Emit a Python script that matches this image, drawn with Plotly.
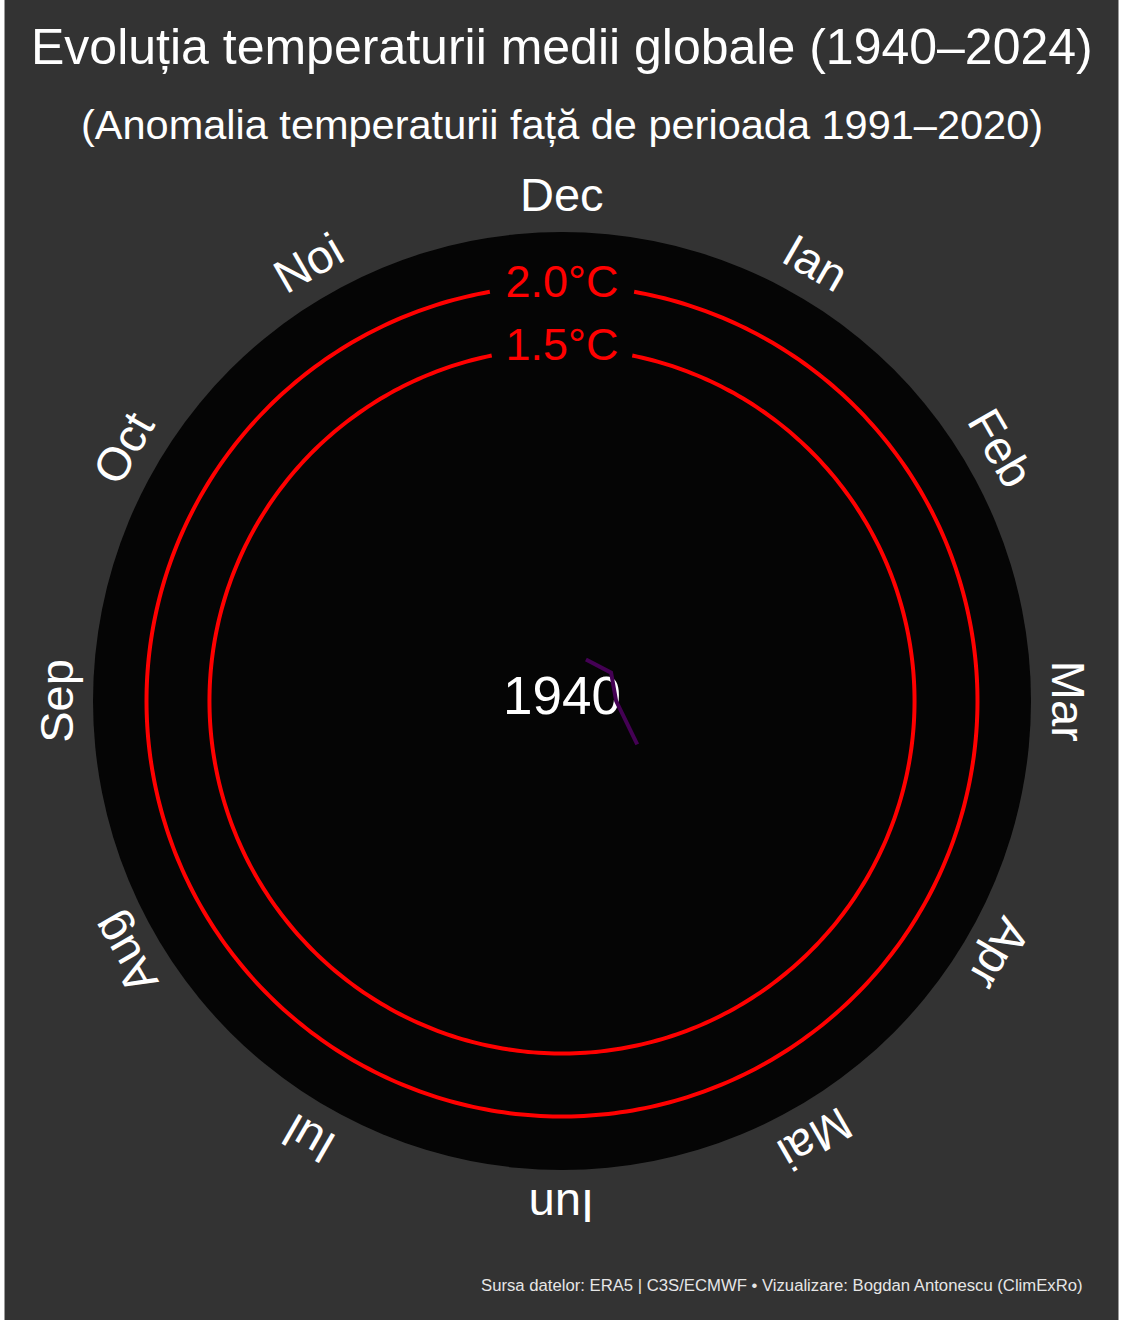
import numpy as np
import plotly.graph_objects as go

# ---- data ----
months = ["Ian", "Feb", "Mar", "Apr", "Mai", "Iun", "Iul", "Aug", "Sep", "Oct", "Noi", "Dec"]
year_label = "1940"
year_months = ["Ian", "Feb", "Mar", "Apr"]
year_anomaly = [-0.92, -0.85, -0.87, -0.61]
thresholds = [1.5, 2.0]
threshold_labels = ["1.5°C", "2.0°C"]
threshold_gap_deg = [11.5, 10.0]

title = "Evoluția temperaturii medii globale (1940–2024)"
subtitle = "(Anomalia temperaturii față de perioada 1991–2020)"
footer = "Sursa datelor: ERA5 | C3S/ECMWF • Vizualizare: Bogdan Antonescu (ClimExRo)"

# ---- layout constants ----
W, H = 1125, 1320
CX, CY = 562, 701          # polar centre (px)
R_PX = 469                 # disc radius (px)
R_MIN, R_MAX = -1.30, 2.425
LABEL_R = 2.72             # month-label radius in radial units
FONT = "Liberation Sans, Arial, Helvetica, sans-serif"
BG = "#333333"
DISC = "#050505"


def month_theta(m):
    return (months.index(m) + 1) * 30.0


def r_to_px(r):
    return (r - R_MIN) / (R_MAX - R_MIN) * R_PX


fig = go.Figure()

# threshold circles with a gap at the top for their labels
for thr, gap in zip(thresholds, threshold_gap_deg):
    th = np.linspace(gap, 360 - gap, 400)
    fig.add_trace(go.Scatterpolar(
        r=[thr] * len(th), theta=th, mode="lines",
        line=dict(color="#ff0000", width=4), hoverinfo="skip", showlegend=False))
fig.add_trace(go.Scatterpolar(
    r=thresholds, theta=[0, 0], mode="text", text=threshold_labels,
    textposition="middle center",
    textfont=dict(color="#ff0000", size=45, family=FONT),
    hoverinfo="skip", showlegend=False))

# year label in the centre
fig.add_trace(go.Scatterpolar(
    r=[R_MIN], theta=[0], mode="text", text=[year_label],
    textposition="middle center",
    textfont=dict(color="white", size=53, family=FONT),
    hoverinfo="skip", showlegend=False))

# spiral line for the year
fig.add_trace(go.Scatterpolar(
    r=year_anomaly, theta=[month_theta(m) for m in year_months], mode="lines",
    line=dict(color="#440154", width=4), hoverinfo="skip", showlegend=False))

# month labels, rotated tangentially
annotations = []
R_lab = r_to_px(LABEL_R)
for m in months:
    t = month_theta(m) % 360
    x = CX + R_lab * np.sin(np.radians(t))
    y = CY - R_lab * np.cos(np.radians(t))
    ang = t if t <= 180 else t - 360
    annotations.append(dict(
        x=x / W, y=1 - y / H, xref="paper", yref="paper", text=m,
        showarrow=False, textangle=ang, xanchor="center", yanchor="middle",
        font=dict(color="white", size=47, family=FONT)))

annotations.append(dict(x=562 / W, y=1 - 47 / H, xref="paper", yref="paper", text=title,
                        showarrow=False, xanchor="center", yanchor="middle",
                        font=dict(color="white", size=50, family=FONT)))
annotations.append(dict(x=562 / W, y=1 - 124 / H, xref="paper", yref="paper", text=subtitle,
                        showarrow=False, xanchor="center", yanchor="middle",
                        font=dict(color="white", size=41.5, family=FONT)))
annotations.append(dict(x=1085 / W, y=1 - 1285 / H, xref="paper", yref="paper", text=footer,
                        showarrow=False, xanchor="right", yanchor="middle",
                        font=dict(color="#e6e6e6", size=16.7, family=FONT)))

shapes = [
    dict(type="rect", xref="paper", yref="paper", x0=-0.01, x1=4 / W, y0=-0.01, y1=1.01,
         fillcolor="white", line=dict(width=0), layer="above"),
    dict(type="rect", xref="paper", yref="paper", x0=1119 / W, x1=1.01, y0=-0.01, y1=1.01,
         fillcolor="white", line=dict(width=0), layer="above"),
    dict(type="line", xref="paper", yref="paper", x0=4.5 / W, x1=4.5 / W, y0=0, y1=1,
         line=dict(color="#9a9a9a", width=1), layer="above"),
    dict(type="line", xref="paper", yref="paper", x0=1118.5 / W, x1=1118.5 / W, y0=0, y1=1,
         line=dict(color="#9a9a9a", width=1), layer="above"),
]

fig.update_layout(
    width=W, height=H,
    margin=dict(l=0, r=0, t=0, b=0),
    paper_bgcolor=BG, plot_bgcolor=BG,
    showlegend=False,
    polar=dict(
        domain=dict(x=[(CX - R_PX) / W, (CX + R_PX) / W],
                    y=[1 - (CY + R_PX) / H, 1 - (CY - R_PX) / H]),
        bgcolor=DISC,
        radialaxis=dict(range=[R_MIN, R_MAX], visible=False, showgrid=False),
        angularaxis=dict(rotation=90, direction="clockwise", showgrid=False,
                         showticklabels=False, ticks="", showline=False),
    ),
    annotations=annotations,
    shapes=shapes,
)

fig.write_html("out.html", config={"displayModeBar": False},
               post_script="document.body.style.margin='0';document.body.style.overflow='hidden';")
